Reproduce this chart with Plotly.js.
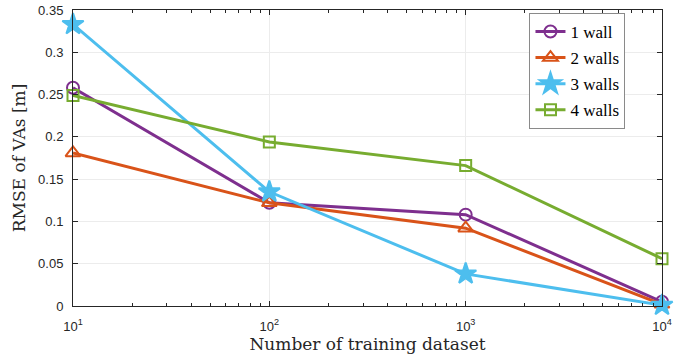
<!DOCTYPE html>
<html>
<head>
<meta charset="utf-8">
<script src="https://cdn.plot.ly/plotly-3.0.1.min.js"></script>
<style>html,body{margin:0;padding:0;background:#fff;}#chart{width:682px;height:362px;}</style>
</head>
<body>
<div id="chart"></div>
<script>
const trainingSizes = [10, 100, 1000, 10000];
const seriesNames = ["1 wall", "2 walls", "3 walls", "4 walls"];
const wall1 = [0.258, 0.122, 0.108, 0.005];
const wall2 = [0.181, 0.122, 0.092, 0.002];
const wall3 = [0.333, 0.135, 0.038, 0.001];
const wall4 = [0.249, 0.194, 0.166, 0.056];
const xTickVals = [10, 100, 1000, 10000];
const xTickText = ["10<sup>1</sup>", "10<sup>2</sup>", "10<sup>3</sup>", "10<sup>4</sup>"];
const yTickVals = [0, 0.05, 0.1, 0.15, 0.2, 0.25, 0.3, 0.35];
const yTickText = ["0", "0.05", "0.1", "0.15", "0.2", "0.25", "0.3", "0.35"];

const colors = ["#7E2F8E", "#D95319", "#4DBEEE", "#77AC30"];
const symbols = ["circle-open", "triangle-up-open", "star", "square-open"];
const sizes = [12, 13, 16, 11];
const allSeries = [wall1, wall2, wall3, wall4];

const serif = "Liberation Serif, DejaVu Serif, serif";

const traces = allSeries.map((ys, i) => ({
  x: trainingSizes, y: ys, name: seriesNames[i], type: "scatter", mode: "lines+markers",
  legendgroup: "g" + i, cliponaxis: false,
  line: {color: colors[i], width: 3},
  marker: {symbol: symbols[i], size: sizes[i], color: colors[i], line: {color: colors[i], width: 2}}
}));

const layout = {
  width: 682, height: 362,
  margin: {l: 73, r: 20, t: 10, b: 56},
  paper_bgcolor: "#fff", plot_bgcolor: "#fff",
  showlegend: true,
  legend: {
    x: 0.775, y: 0.99, xanchor: "left", yanchor: "top",
    bgcolor: "#fff", bordercolor: "#8a8a8a", borderwidth: 1,
    font: {family: serif, size: 17, color: "#000"},
    tracegroupgap: 1, itemwidth: 30
  },
  xaxis: {
    type: "log", range: [1, 4],
    tickmode: "array", tickvals: xTickVals, ticktext: xTickText,
    ticks: "inside", ticklen: 5, tickcolor: "#262626",
    ticklabelstandoff: 8,
    showgrid: true, gridcolor: "#ececec", gridwidth: 1,
    showline: true, linecolor: "#262626", linewidth: 1, mirror: "ticks",
    zeroline: false,
    minor: {ticks: "inside", ticklen: 3, tickcolor: "#262626", showgrid: false, dtick: "D1"},
    tickfont: {family: "Liberation Sans, Arial, sans-serif", size: 13, color: "#262626"},
    title: {text: "Number of training dataset", standoff: 5,
      font: {family: "DejaVu Serif, serif", size: 17, color: "#262626"}}
  },
  yaxis: {
    range: [0, 0.35],
    tickmode: "array", tickvals: yTickVals, ticktext: yTickText,
    ticks: "inside", ticklen: 5, tickcolor: "#262626",
    ticklabelstandoff: 6,
    showgrid: true, gridcolor: "#ececec", gridwidth: 1,
    showline: true, linecolor: "#262626", linewidth: 1, mirror: "ticks",
    zeroline: false,
    tickfont: {family: "Liberation Sans, Arial, sans-serif", size: 13, color: "#262626"},
    title: {text: "RMSE of VAs [m]", standoff: 8,
      font: {family: "DejaVu Serif, serif", size: 17, color: "#262626"}}
  }
};

Plotly.newPlot("chart", traces, layout, {displayModeBar: false, staticPlot: true});
</script>
</body>
</html>
